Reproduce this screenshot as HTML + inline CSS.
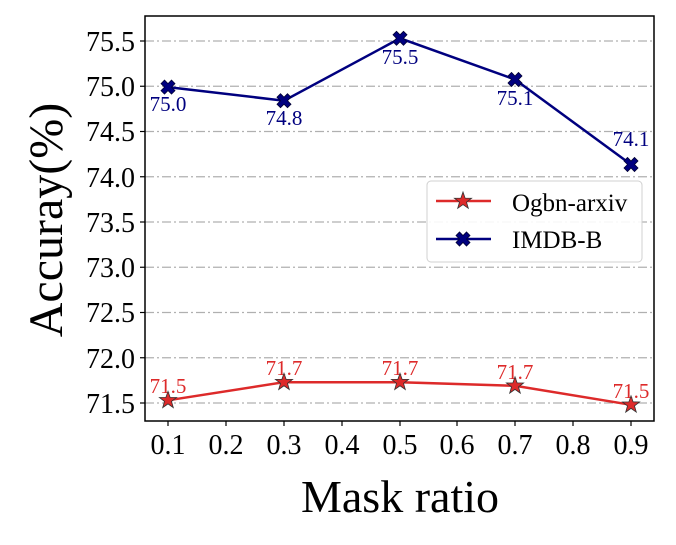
<!DOCTYPE html>
<html><head><style>body{margin:0;background:#fff}text{font-family:"Times New Roman","Liberation Serif","DejaVu Serif",serif}</style></head>
<body>
<svg width="676" height="540" xmlns="http://www.w3.org/2000/svg">
<rect width="676" height="540" fill="#fff"/>
<g stroke="#b0b0b0" stroke-width="1.2" stroke-dasharray="9,3,2,3">
<line x1="145" x2="654" y1="41" y2="41"/><line x1="145" x2="654" y1="86.25" y2="86.25"/>
<line x1="145" x2="654" y1="131.5" y2="131.5"/><line x1="145" x2="654" y1="176.75" y2="176.75"/>
<line x1="145" x2="654" y1="222" y2="222"/><line x1="145" x2="654" y1="267.25" y2="267.25"/>
<line x1="145" x2="654" y1="312.5" y2="312.5"/><line x1="145" x2="654" y1="357.75" y2="357.75"/>
<line x1="145" x2="654" y1="403" y2="403"/>
</g>
<rect x="145" y="16" width="509" height="405" fill="none" stroke="#000" stroke-width="1.5"/>
<g stroke="#000" stroke-width="1.2">
<line x1="140" x2="145" y1="41" y2="41"/><line x1="140" x2="145" y1="86.25" y2="86.25"/><line x1="140" x2="145" y1="131.5" y2="131.5"/><line x1="140" x2="145" y1="176.75" y2="176.75"/><line x1="140" x2="145" y1="222" y2="222"/><line x1="140" x2="145" y1="267.25" y2="267.25"/><line x1="140" x2="145" y1="312.5" y2="312.5"/><line x1="140" x2="145" y1="357.75" y2="357.75"/><line x1="140" x2="145" y1="403" y2="403"/>
<line x1="168" x2="168" y1="421" y2="426"/><line x1="226" x2="226" y1="421" y2="426"/><line x1="284" x2="284" y1="421" y2="426"/><line x1="342" x2="342" y1="421" y2="426"/><line x1="400" x2="400" y1="421" y2="426"/><line x1="457" x2="457" y1="421" y2="426"/><line x1="515" x2="515" y1="421" y2="426"/><line x1="573" x2="573" y1="421" y2="426"/><line x1="631" x2="631" y1="421" y2="426"/>
</g>
<g font-size="28" text-anchor="end" fill="#000">
<text x="135" y="51">75.5</text><text x="135" y="96">75.0</text><text x="135" y="141">74.5</text><text x="135" y="187">74.0</text><text x="135" y="232">73.5</text><text x="135" y="277">73.0</text><text x="135" y="322">72.5</text><text x="135" y="368">72.0</text><text x="135" y="413">71.5</text>
</g>
<g font-size="28" text-anchor="middle" fill="#000">
<text x="168" y="454">0.1</text><text x="226" y="454">0.2</text><text x="284" y="454">0.3</text><text x="342" y="454">0.4</text><text x="400" y="454">0.5</text><text x="457" y="454">0.6</text><text x="515" y="454">0.7</text><text x="573" y="454">0.8</text><text x="631" y="454">0.9</text>
</g>
<text x="400" y="512" font-size="46" text-anchor="middle">Mask ratio</text>
<text transform="translate(62,220) rotate(-90)" font-size="48" text-anchor="middle">Accuray(%)</text>
<polyline points="168,87.1 284,100.7 400,38.3 515,79.5 631,164.5" fill="none" stroke="#00007f" stroke-width="2.5"/>
<g fill="#00007f" font-size="21" text-anchor="middle">
<text x="168" y="111">75.0</text><text x="284" y="125">74.8</text><text x="400" y="64">75.5</text><text x="515" y="105">75.1</text><text x="631" y="146">74.1</text>
</g>
<polyline points="168,400.3 284,382.2 400,382.2 515,385.8 631,404.8" fill="none" stroke="#dd2a2a" stroke-width="2.5"/>
<g fill="#dd2a2a" font-size="21" text-anchor="middle">
<text x="168" y="393">71.5</text><text x="284" y="375">71.7</text><text x="400" y="375">71.7</text><text x="515" y="379">71.7</text><text x="631" y="398">71.5</text>
</g>
<defs>
<path id="x" d="M-7,-3.5 L-3.5,-7 L0,-3.5 L3.5,-7 L7,-3.5 L3.5,0 L7,3.5 L3.5,7 L0,3.5 L-3.5,7 L-7,3.5 L-3.5,0 Z" fill="#00007f" stroke="#000033" stroke-width="0.8"/>
<path id="s" d="M0,-9 L2.1,-2.9 L8.6,-2.8 L3.5,1.1 L5.3,7.3 L0,3.6 L-5.3,7.3 L-3.5,1.1 L-8.6,-2.8 L-2.1,-2.9 Z" fill="#dd2a2a" stroke="#333" stroke-width="0.8"/>
</defs>
<use href="#x" x="168" y="87.1"/><use href="#x" x="284" y="100.7"/><use href="#x" x="400" y="38.3"/><use href="#x" x="515" y="79.5"/><use href="#x" x="631" y="164.5"/>
<use href="#s" x="168" y="400.3"/><use href="#s" x="284" y="382.2"/><use href="#s" x="400" y="382.2"/><use href="#s" x="515" y="385.8"/><use href="#s" x="631" y="404.8"/>
<rect x="427" y="181" width="215" height="81" rx="4" fill="#fff" fill-opacity="0.9" stroke="#d0d0d0" stroke-width="1"/>
<line x1="436" x2="491" y1="201" y2="201" stroke="#dd2a2a" stroke-width="2.5"/>
<use href="#s" x="463" y="201"/>
<text x="512" y="211" font-size="25">Ogbn-arxiv</text>
<line x1="436" x2="491" y1="239" y2="239" stroke="#00007f" stroke-width="2.5"/>
<use href="#x" x="463" y="239"/>
<text x="512" y="248" font-size="25">IMDB-B</text>
</svg>
</body></html>
